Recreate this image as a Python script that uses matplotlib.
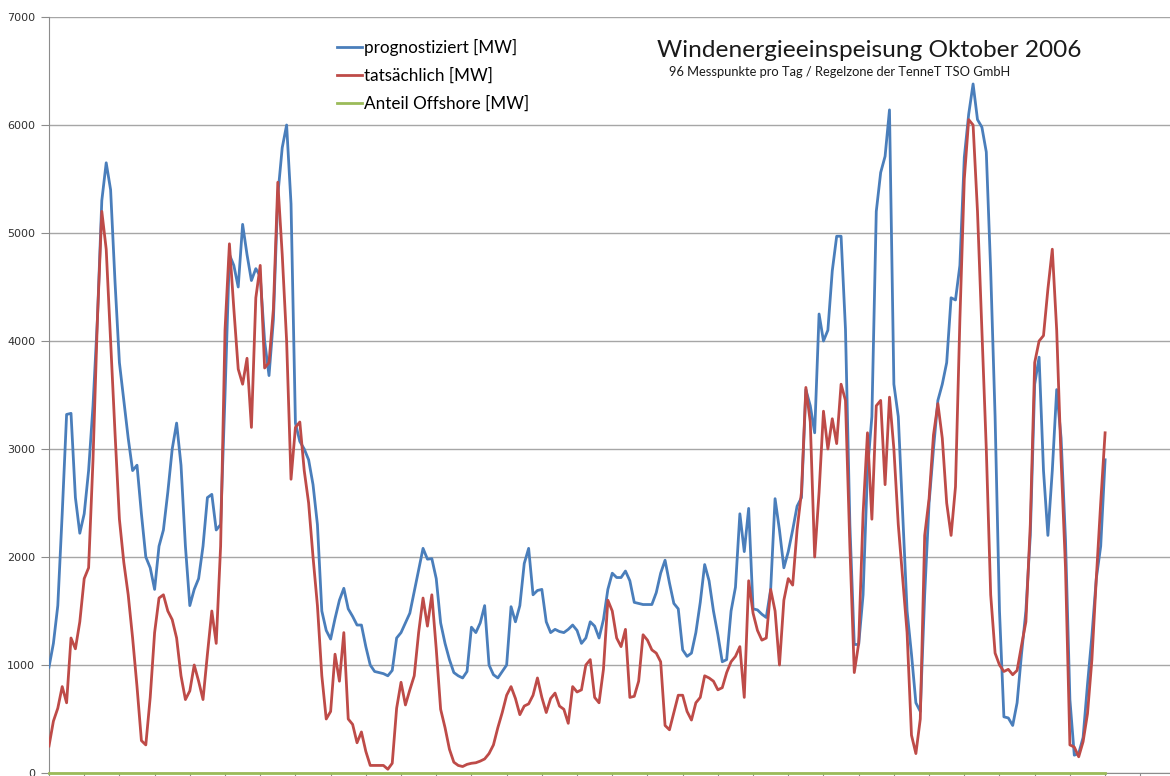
import matplotlib
matplotlib.use('Agg')
import matplotlib.pyplot as plt
import numpy as np

# 3-hourly readings (8 per day), 1 Oct .. 31 Oct 00:00, in MW
prognostiziert = [
    980, 1200, 1550, 2400, 3320, 3330, 2550, 2220,
    2400, 2800, 3400, 4200, 5300, 5650, 5400, 4550,
    3800, 3450, 3100, 2800, 2850, 2400, 2000, 1900,
    1700, 2100, 2250, 2600, 3000, 3240, 2850, 2100,
    1550, 1700, 1800, 2100, 2550, 2580, 2250, 2300,
    3500, 4800, 4700, 4500, 5080, 4800, 4560, 4670,
    4600, 4000, 3680, 4200, 5350, 5790, 6000, 5270,
    3240, 3070, 3000, 2900, 2670, 2300, 1500, 1320,
    1240, 1430, 1600, 1710, 1520, 1450, 1370, 1370,
    1170, 1000, 940, 930, 920, 900, 950, 1250,
    1300, 1390, 1480, 1680, 1880, 2080, 1980, 1985,
    1800, 1390, 1200, 1050, 930, 900, 880, 940,
    1350, 1300, 1390, 1550, 1000, 910, 880, 940,
    1000, 1540, 1400, 1550, 1940, 2080, 1650, 1690,
    1700, 1400, 1300, 1330, 1310, 1300, 1330, 1370,
    1320, 1200, 1250, 1400, 1360, 1250, 1420, 1700,
    1850, 1810, 1810, 1870, 1780, 1580, 1570, 1560,
    1560, 1560, 1670, 1850, 1970, 1760, 1570, 1520,
    1140, 1080, 1110, 1300, 1580, 1930, 1780, 1500,
    1280, 1030, 1050, 1500, 1720, 2400, 2050, 2450,
    1520, 1510, 1470, 1440, 1700, 2540, 2250, 1900,
    2050, 2250, 2470, 2550, 3550, 3400, 3150, 4250,
    4000, 4100, 4650, 4970, 4970, 4110, 2300, 1190,
    1190, 1650, 2800, 3300, 5200, 5560, 5710, 6140,
    3600, 3300, 2400, 1500, 1100, 650, 570, 1650,
    2500, 3000, 3450, 3600, 3800, 4400, 4380, 4700,
    5700, 6100, 6380, 6050, 5980, 5750, 4650, 3300,
    1500, 520, 510, 440, 650, 1100, 1500, 2200,
    3600, 3850, 2800, 2200, 2800, 3550, 3100, 2160,
    680, 165, 180, 330, 820, 1270, 1800, 2100,
    2900,
]

tatsaechlich = [
    250, 480, 600, 800, 650, 1250, 1150, 1400,
    1800, 1900, 2900, 4200, 5200, 4850, 4000, 3150,
    2350, 1950, 1650, 1250, 800, 300, 260, 700,
    1300, 1620, 1650, 1500, 1420, 1250, 900, 680,
    760, 1000, 850, 680, 1100, 1500, 1200, 2100,
    4100, 4900, 4300, 3740, 3600, 3840, 3200, 4400,
    4700, 3750, 3800, 4300, 5470, 4800, 4000, 2720,
    3200, 3250, 2800, 2500, 2000, 1550, 900, 500,
    570, 1100, 850, 1300, 500, 450, 280, 380,
    200, 70, 70, 70, 70, 35, 90, 600,
    840, 630, 770, 900, 1300, 1620, 1360, 1650,
    1150, 590, 420, 220, 100, 70, 60, 80,
    90, 95, 110, 130, 180, 260, 420, 560,
    720, 800, 690, 540, 620, 640, 720, 880,
    700, 560, 690, 740, 620, 590, 460, 800,
    750, 770, 1000, 1050, 700, 650, 960, 1600,
    1500, 1250, 1170, 1330, 700, 710, 850, 1280,
    1230, 1140, 1110, 1030, 440, 400, 560, 720,
    720, 570, 490, 650, 700, 900, 880, 850,
    770, 790, 930, 1030, 1080, 1170, 700, 1780,
    1480, 1320, 1230, 1250, 1700, 1500, 1000, 1600,
    1800, 1740, 2250, 2600, 3570, 3250, 2000, 2600,
    3350, 3000, 3280, 3050, 3600, 3450, 2100, 930,
    1200, 2400, 3150, 2350, 3400, 3450, 2670, 3480,
    3000, 2300, 1800, 1300, 350, 180, 500, 2200,
    2540, 3130, 3420, 3100, 2500, 2200, 2650, 4200,
    5500, 6050, 6000, 5200, 4100, 3000, 1650, 1110,
    1000, 940, 960, 910, 950, 1180, 1400, 2300,
    3800, 4000, 4050, 4480, 4850, 4100, 2900, 1900,
    260, 240, 150, 290, 550, 1050, 1800, 2500,
    3150,
]

offshore = [0] * len(tatsaechlich)

y_ticks = [0, 1000, 2000, 3000, 4000, 5000, 6000, 7000]
samples_per_day = 8

t = np.arange(len(tatsaechlich)) / samples_per_day

fig = plt.figure(figsize=(11.7, 7.76), dpi=100)
ax = fig.add_axes([49 / 1170, 3 / 776, 1 - 49 / 1170 + 0.002, 756 / 776])

ax.plot(t, prognostiziert, color='#4a7ebb', lw=2.0, solid_joinstyle='round',
        label='prognostiziert [MW]', zorder=3)
ax.plot(t, tatsaechlich, color='#be4b48', lw=2.0, solid_joinstyle='round',
        label='tatsächlich [MW]', zorder=4)
ax.plot(t, offshore, color='#9bbb59', lw=2.0, label='Anteil Offshore [MW]',
        zorder=5, clip_on=False)

ax.set_ylim(0, 7000)
ax.set_xlim(0, (1170 - 49) / 35.13)
ax.set_yticks(y_ticks)
ax.set_yticklabels([str(v) for v in y_ticks], fontsize=8, color='#303030',
                   family='DejaVu Sans')
ax.set_xticks(np.arange(0, 32))
ax.set_xticklabels([])
ax.tick_params(axis='y', length=6, color='#8c8c8c', pad=4)
ax.tick_params(axis='x', length=5, color='#8c8c8c', direction='out')

ax.grid(axis='y', color='#a6a6a6', lw=1.0)
ax.set_axisbelow(True)
for side in ['top', 'right']:
    ax.spines[side].set_visible(False)
ax.spines['left'].set_color('#8c8c8c')
ax.spines['bottom'].set_color('#8c8c8c')

fig.legend(loc='upper left', bbox_to_anchor=(330 / 1170, 1 - 32 / 776),
           frameon=False, prop={'family': 'Lato', 'size': 12.3},
           handlelength=1.5, handletextpad=0.1, labelspacing=0.7,
           borderaxespad=0)

fig.text(657 / 1170, 1 - 57 / 776, 'Windenergieeinspeisung Oktober 2006',
         family='Lato', fontsize=17.6, va='baseline', color='#1a1a1a')
fig.text(669 / 1170, 1 - 76 / 776,
         '96 Messpunkte pro Tag / Regelzone der TenneT TSO GmbH',
         family='Lato', fontsize=9.3, va='baseline', color='#1a1a1a')

fig.savefig('out.png', dpi=100)
